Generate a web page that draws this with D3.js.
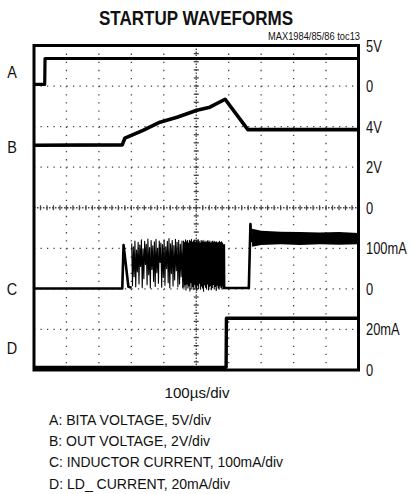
<!DOCTYPE html>
<html lang="en">
<head>
<meta charset="utf-8">
<title>Startup Waveforms</title>
<script src="https://cdn.jsdelivr.net/npm/d3@7"></script>
<style>
  body { margin: 0; background: #fff; }
  svg text { font-family: "Liberation Sans", Arial, sans-serif; fill: #111; }
  .trace { fill: none; stroke: #000; stroke-linejoin: round; }
  .grid { stroke: #444; stroke-width: 1.3; }
</style>
</head>
<body>
<script>
// ---- data (time in µs) ----
var rightLabels = ["5V", "0", "4V", "2V", "0", "100mA", "0", "20mA", "0"];
var chanNames = ["A", "B", "C", "D"];
var legendLines = [
  "A: BITA VOLTAGE, 5V/div",
  "B: OUT VOLTAGE, 2V/div",
  "C: INDUCTOR CURRENT, 100mA/div",
  "D: LD_ CURRENT, 20mA/div"
];

// A: BITA voltage (V)
var aTime = [0, 33, 34, 1000];
var aVolt = [0.2, 0.2, 3.4, 3.4];

// B: OUT voltage (V)
var bTime = [0, 272, 280, 336, 388, 441, 502, 542, 589, 659, 1000];
var bVolt = [3.08, 3.1, 3.43, 3.82, 4.22, 4.46, 4.81, 4.96, 5.35, 3.85, 3.85];

// C: inductor current (mA), flat parts
var cTimeA = [0, 272, 276, 291, 301];
var cValA = [1, 1, 108, 5, 3];
// switching bursts: peak / trough per cycle
var cPeaksSlow = [112, 104, 118, 96, 115, 108, 121, 99, 117, 110, 123, 102, 119, 106, 116, 122,
  100, 118, 113, 109, 121, 104, 117, 124, 111, 119, 107, 122, 115, 120, 110, 118];
var cTroughsSlow = [8, 30, 5, 42, 12, 55, 3, 25, 60, 10, 35, 2, 48, 18, 6, 40,
  14, 65, 4, 28, 9, 50, 15, 3, 38, 7, 22, 45, 5, 12, 30, 2];
var cPeaksFast = [118, 114, 121, 116, 119, 113, 120, 117, 122, 115, 118, 120, 114, 119, 116, 121,
  117, 113, 119, 116, 120, 115, 118, 114, 117, 119, 115, 118, 113, 116, 118, 115, 117, 114, 116, 113,
  115, 117, 114, 116, 113];
var cTroughsFast = [4, 10, -3, 12, 2, 8, -5, 15, 0, 6, -2, 11, 3, -4, 9, 1, 14, -1, 7, 2,
  -6, 10, 4, 0, 12, -3, 5, 8, -2, 3, 11, 0, 6, -4, 9, 2, -1, 7, 3, 0, 5];
var cTimeB = [585, 586, 662, 667, 670, 675];
var cValB = [110, 2, 2, 160, 118, 130];
// C noisy band after restart
var cBandTime = [672, 700, 760, 820, 880, 940, 1000];
var cBandLo = [104, 108, 110, 108, 110, 109, 110];
var cBandHi = [148, 143, 141, 140, 139, 140, 138];

// D: LD_ current (mA)
var dTime = [0, 592, 593, 1000];
var dVal = [1.3, 1.3, 25.5, 25.5];

// ---- layout ----
var W = 414, H = 494;
var svg = d3.select("body").append("svg").attr("width", W).attr("height", H);

var x = d3.scaleLinear().domain([0, 1000]).range([34, 358.5]);
var yDiv = d3.scaleLinear().domain([0, 8]).range([45.5, 370]);
var yA = d3.scaleLinear().domain([0, 5]).range([yDiv(1), yDiv(0)]);
var yB = d3.scaleLinear().domain([0, 2]).range([yDiv(4), yDiv(3)]);
var yC = d3.scaleLinear().domain([0, 100]).range([yDiv(6), yDiv(5)]);
var yD = d3.scaleLinear().domain([0, 20]).range([yDiv(8), yDiv(7)]);

// title
svg.append("text").attr("x", 196).attr("y", 25).attr("text-anchor", "middle")
  .style("font-size", "20px").style("font-weight", "bold")
  .attr("textLength", 194).attr("lengthAdjust", "spacingAndGlyphs")
  .text("STARTUP WAVEFORMS");
svg.append("text").attr("x", 360).attr("y", 40).attr("text-anchor", "end")
  .style("font-size", "10px").text("MAX1984/85/86 toc13")
  .attr("textLength", 92).attr("lengthAdjust", "spacingAndGlyphs");

// grid
var g = svg.append("g");
var hStep = (x(100) - x(0)) / 5, vStep = (yDiv(1) - yDiv(0)) / 5;
d3.range(1, 10).forEach(function(i) {
  if (i === 5) return;
  g.append("line").attr("class", "grid")
    .attr("x1", x(i * 100)).attr("x2", x(i * 100)).attr("y1", yDiv(0)).attr("y2", yDiv(8))
    .attr("stroke-dasharray", "1.3," + (vStep - 1.3));
});
d3.range(1, 8).forEach(function(j) {
  if (j === 4) return;
  g.append("line").attr("class", "grid")
    .attr("x1", x(0)).attr("x2", x(1000)).attr("y1", yDiv(j)).attr("y2", yDiv(j))
    .attr("stroke-dasharray", "1.3," + (hStep - 1.3));
});
// center axes with minor ticks
g.append("line").attr("class", "grid").attr("x1", x(500)).attr("x2", x(500))
  .attr("y1", yDiv(0)).attr("y2", yDiv(8)).attr("stroke-dasharray", "1.5,1.5");
g.append("line").attr("class", "grid").attr("x1", x(0)).attr("x2", x(1000))
  .attr("y1", yDiv(4)).attr("y2", yDiv(4)).attr("stroke-dasharray", "1.5,1.5");
d3.range(1, 40).forEach(function(k) {
  g.append("line").attr("class", "grid").attr("x1", x(500) - 2.5).attr("x2", x(500) + 2.5)
    .attr("y1", yDiv(0) + k * vStep).attr("y2", yDiv(0) + k * vStep);
});
d3.range(1, 50).forEach(function(k) {
  g.append("line").attr("class", "grid").attr("x1", x(0) + k * hStep).attr("x2", x(0) + k * hStep)
    .attr("y1", yDiv(4) - 2.5).attr("y2", yDiv(4) + 2.5);
});

// traces
function draw(ts, vs, ys, w) {
  var pts = ts.map(function(t, i) { return [x(t), ys(vs[i])]; });
  svg.append("path").attr("class", "trace").attr("stroke-width", w)
    .attr("d", d3.line()(pts));
}
draw(aTime, aVolt, yA, 3.2);
draw(bTime, bVolt, yB, 3.6);

// C switching: build the sample sequence from the cycle values
var swT = [], swV = [];
var t0 = 301;
cPeaksSlow.forEach(function(p, i) {
  swT.push(t0 + i * 5); swV.push(p);
  swT.push(t0 + i * 5 + 2.5); swV.push(cTroughsSlow[i]);
});
t0 = 301 + cPeaksSlow.length * 5;
cPeaksFast.forEach(function(p, i) {
  swT.push(t0 + i * 3); swV.push(p);
  swT.push(t0 + i * 3 + 1.5); swV.push(cTroughsFast[i]);
});
draw(cTimeA, cValA, yC, 2.6);
draw(swT, swV, yC, 1.1);
draw(cTimeB, cValB, yC, 2.6);
svg.append("path").attr("fill", "#000")
  .datum(cBandTime)
  .attr("d", d3.area()
    .x(function(t) { return x(t); })
    .y0(function(t, i) { return yC(cBandLo[i]); })
    .y1(function(t, i) { return yC(cBandHi[i]); }));
draw(dTime, dVal, yD, 3.4);

// frame
svg.append("rect").attr("x", x(0)).attr("y", yDiv(0))
  .attr("width", x(1000) - x(0)).attr("height", yDiv(8) - yDiv(0))
  .attr("fill", "none").attr("stroke", "#000").attr("stroke-width", 3);

// right-hand scale labels (condensed by a horizontal squeeze)
svg.selectAll("text.rl").data(rightLabels).enter().append("text").attr("class", "rl")
  .attr("transform", function(d, i) { return "translate(366," + (yDiv(i) + 6) + ") scale(0.78,1)"; })
  .style("font-size", "16.5px").text(function(d) { return d; });

// channel letters
var chanPos = [0.65, 2.5, 6.0, 7.45];
svg.selectAll("text.ch").data(chanNames).enter().append("text").attr("class", "ch")
  .attr("transform", function(d, i) { return "translate(12," + (yDiv(chanPos[i]) + 6) + ") scale(0.85,1)"; })
  .attr("text-anchor", "middle").style("font-size", "17px").text(function(d) { return d; });

// time base + legend
svg.append("text").attr("x", 197).attr("y", 398).attr("text-anchor", "middle")
  .style("font-size", "15.5px").text("100\u00b5s/div")
  .attr("textLength", 65).attr("lengthAdjust", "spacingAndGlyphs");
var legendWidths = [162, 161, 234, 181];
svg.selectAll("text.lg").data(legendLines).enter().append("text").attr("class", "lg")
  .attr("x", 49).attr("y", function(d, i) { return 425 + i * 21.2; })
  .style("font-size", "15.5px").text(function(d) { return d; })
  .attr("textLength", function(d, i) { return legendWidths[i]; })
  .attr("lengthAdjust", "spacingAndGlyphs");
</script>
</body>
</html>
